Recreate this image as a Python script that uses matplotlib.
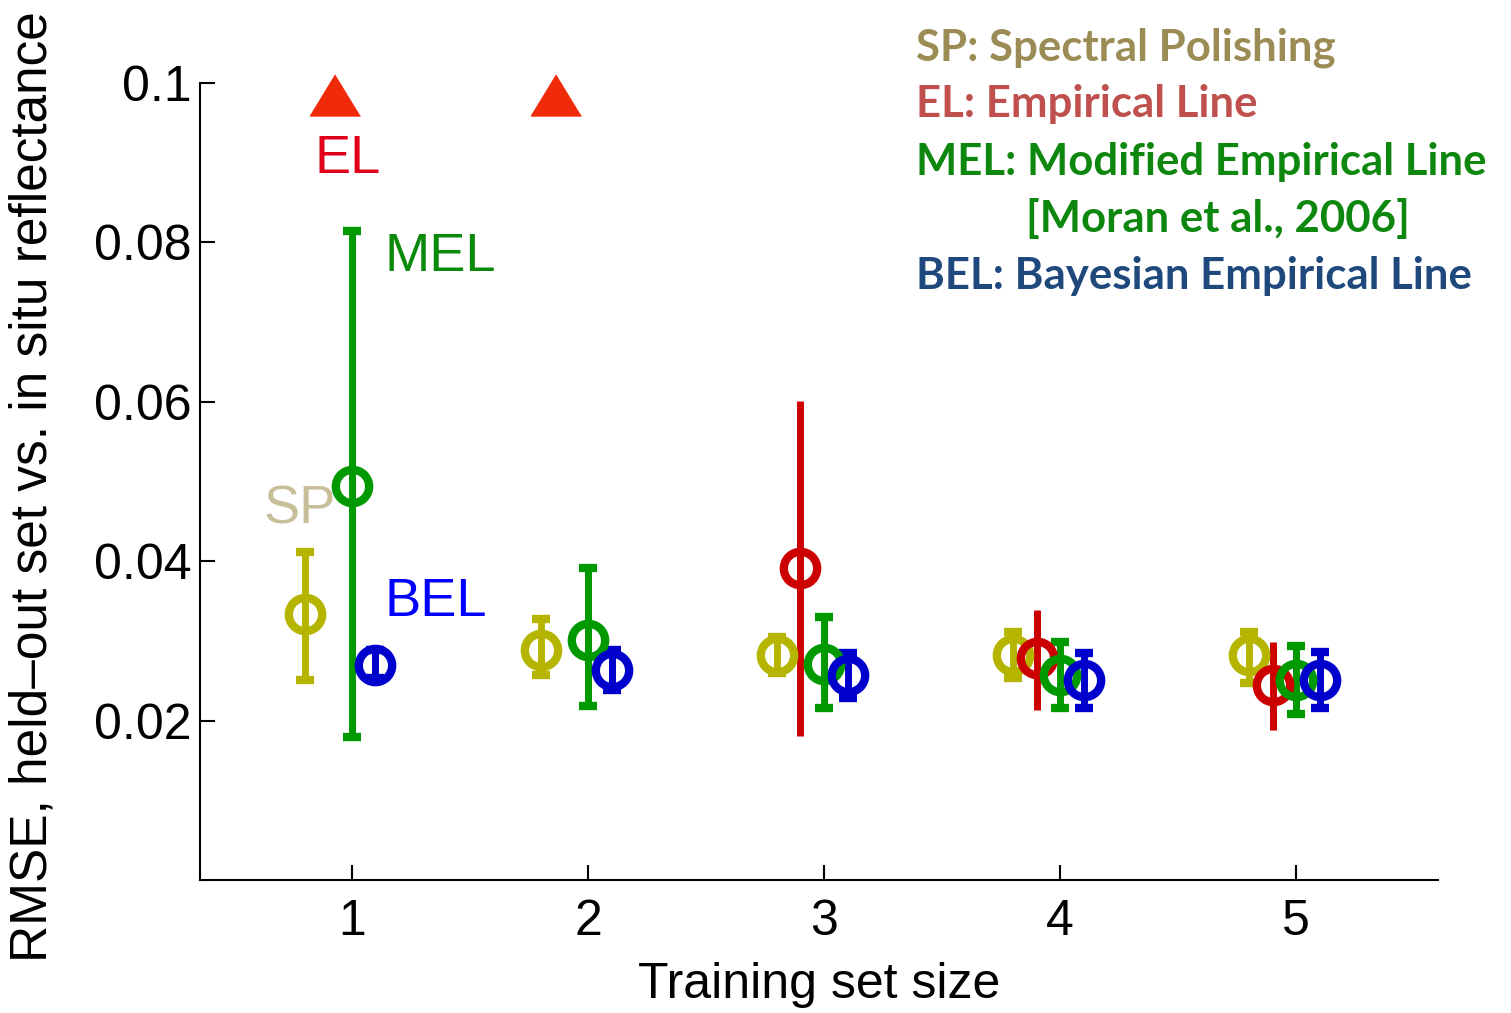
import numpy as np
import matplotlib
matplotlib.use('Agg')
import matplotlib.pyplot as plt

# Dados
sizes = np.array([1, 2, 3, 4, 5])

sp_mean = [0.0334, 0.0289, 0.0282, 0.0282, 0.0282]
sp_low = [0.0251, 0.0257, 0.0260, 0.0253, 0.0247]
sp_high = [0.0412, 0.0328, 0.0305, 0.0311, 0.0311]

el_mean = [np.nan, np.nan, 0.0392, 0.0279, 0.0245]
el_low = [np.nan, np.nan, 0.0181, 0.0213, 0.0188]
el_high = [np.nan, np.nan, 0.0601, 0.0339, 0.0299]

mel_mean = [0.0494, 0.0301, 0.0271, 0.0257, 0.0251]
mel_low = [0.0180, 0.0218, 0.0216, 0.0216, 0.0208]
mel_high = [0.0814, 0.0392, 0.0330, 0.0299, 0.0293]

bel_mean = [0.0270, 0.0264, 0.0257, 0.0251, 0.0251]
bel_low = [0.0253, 0.0238, 0.0228, 0.0216, 0.0216]
bel_high = [0.0288, 0.0289, 0.0285, 0.0285, 0.0286]

# EL fora da escala para tamanhos 1 e 2
tri_x = [0.93, 1.865]
tri_y = [0.0985, 0.0985]

methods = [
    ('SP', sp_mean, sp_low, sp_high, -0.2, '#b5b500', 6.5),
    ('EL', el_mean, el_low, el_high, -0.1, '#cc0000', 0),
    ('MEL', mel_mean, mel_low, mel_high, 0.0, '#009900', 6.5),
    ('BEL', bel_mean, bel_low, bel_high, 0.1, '#0000cc', 6.5),
]

plt.rcParams['font.family'] = ['Liberation Sans', 'DejaVu Sans']

fig = plt.figure(figsize=(15.11, 10.13), dpi=100)
ax = fig.add_axes([200/1511, 1 - 880/1013, 1238/1511, 797/1013])

for name, m, lo, hi, off, col, cap in methods:
    m = np.array(m)
    yerr = np.array([m - np.array(lo), np.array(hi) - m])
    ax.errorbar(sizes + off, m, yerr=yerr, fmt='o', color=col, mfc='none',
                mec=col, ms=24, mew=6, elinewidth=5, capsize=cap,
                capthick=5.5)

tri = [(0, 0.82), (-1, -0.82), (1, -0.82)]
ax.plot(tri_x, tri_y, linestyle='none', marker=tri, ms=36, color='#f02a0a',
        clip_on=False)

# Rotulos junto aos pontos
ax.text(0.843, 0.0887, 'EL', color='#e0001a', fontsize=39)
ax.text(1.14, 0.0764, 'MEL', color='#0a8a0a', fontsize=39)
ax.text(0.628, 0.0447, 'SP', color='#c8bf9a', fontsize=39)
ax.text(1.14, 0.0331, 'BEL', color='#0000ff', fontsize=39)

ax.set_xlim(0.357, 5.60)
ax.set_ylim(0, 0.1)
ax.set_xticks([1, 2, 3, 4, 5])
ax.set_yticks([0.02, 0.04, 0.06, 0.08, 0.1])
ax.set_yticklabels(['0.02', '0.04', '0.06', '0.08', '0.1'])
ax.tick_params(direction='in', length=11, width=1.5, labelsize=36)
ax.tick_params(axis='x', pad=14)
ax.tick_params(axis='y', pad=6)
for s in ['top', 'right']:
    ax.spines[s].set_visible(False)
for s in ['left', 'bottom']:
    ax.spines[s].set_linewidth(1.5)

ax.set_xlabel('Training set size', fontsize=36, labelpad=12)
fig.text(33/1511, 1 - 487/1013, 'RMSE, held\u2013out set vs. in situ reflectance',
         rotation=90, ha='center', va='center', fontsize=37)

# Legenda em texto
leg_font = ['Lato', 'DejaVu Sans']
leg = [
    ('SP: Spectral Polishing', '#9b8c55', 916, 60),
    ('EL: Empirical Line', '#c0504d', 916, 117),
    ('MEL: Modified Empirical Line', '#0e870e', 916, 175),
    ('[Moran et al., 2006]', '#0e870e', 1026, 232),
    ('BEL: Bayesian Empirical Line', '#1f497d', 916, 289),
]
for txt, col, px, py in leg:
    fig.text(px/1511, 1 - py/1013, txt, color=col, fontsize=31.5,
             fontweight='bold', family=leg_font, va='baseline', ha='left')

fig.savefig('out.png', dpi=100)
